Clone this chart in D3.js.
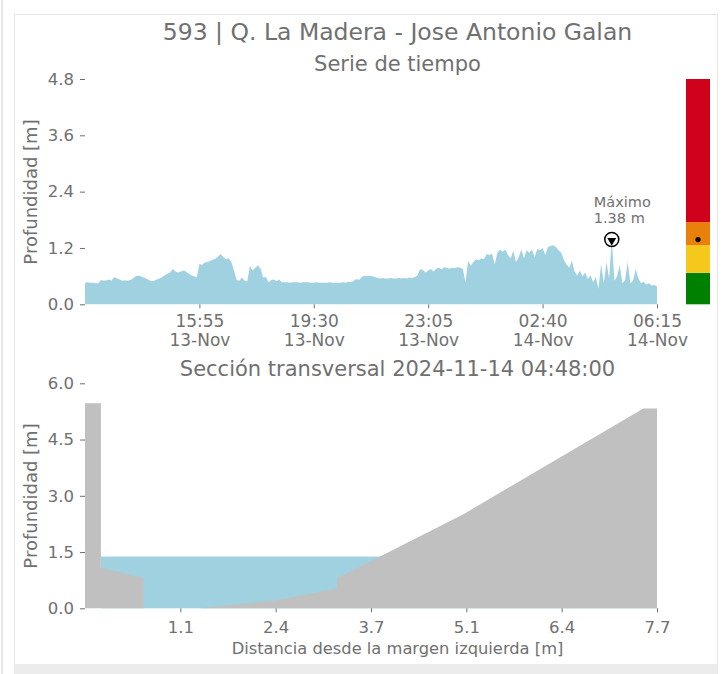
<!DOCTYPE html>
<html>
<head>
<meta charset="utf-8">
<script src="https://cdn.jsdelivr.net/npm/d3@7"></script>
<style>
body { margin: 0; background: #fff; }
text { font-family: "DejaVu Sans", sans-serif; fill: #707070; }
</style>
</head>
<body>
<svg id="chart" width="726" height="674"></svg>
<script>
/*************************************************************************/

const estacion = "593 | Q. La Madera - Jose Antonio Galan";
const inicio = "2024-11-13 12:20";
const fin = "2024-11-14 06:15";
const pasoMin = 5;

// profundidad cada 5 min [m]
const profundidad = [
    0.46, 0.47, 0.46, 0.46, 0.45, 0.45, 0.52, 0.50, 0.51, 0.53,
    0.50, 0.58, 0.55, 0.53, 0.50, 0.51, 0.50, 0.52, 0.55, 0.60,
    0.61, 0.60, 0.57, 0.55, 0.52, 0.49, 0.50, 0.53, 0.55, 0.58,
    0.62, 0.65, 0.68, 0.75, 0.70, 0.68, 0.70, 0.72, 0.70, 0.65,
    0.62, 0.60, 0.57, 0.86, 0.84, 0.89, 0.90, 0.92, 0.95, 0.97,
    1.02, 1.07, 1.00, 0.96, 0.98, 0.90, 0.72, 0.52, 0.50, 0.57,
    0.50, 0.49, 0.82, 0.72, 0.78, 0.83, 0.76, 0.57, 0.58, 0.47,
    0.52, 0.53, 0.49, 0.53, 0.47,
    0.47, 0.47, 0.46, 0.47, 0.47, 0.47, 0.46, 0.47, 0.47, 0.47,
    0.46, 0.46, 0.47, 0.46, 0.46, 0.46, 0.46, 0.47, 0.46, 0.46,
    0.46, 0.46, 0.47, 0.46, 0.48, 0.47,
    0.50, 0.54, 0.52, 0.58, 0.61, 0.60,
    0.61, 0.60, 0.58, 0.56, 0.55, 0.56, 0.55, 0.55, 0.56, 0.55,
    0.55, 0.56, 0.55, 0.56, 0.55, 0.57, 0.56, 0.58, 0.62,
    0.75, 0.73, 0.68, 0.72, 0.75, 0.70,
    0.76, 0.78, 0.74, 0.79, 0.78, 0.76, 0.78, 0.77, 0.79, 0.78, 0.76,
    0.47, 0.93, 0.82, 0.90, 0.96, 0.94, 0.98, 0.96, 1.07, 1.05,
    1.08, 0.85, 1.10, 1.16, 1.12, 1.17, 1.05, 0.98, 1.14, 0.90,
    1.00, 1.17, 0.98, 1.15, 1.10, 1.17, 1.00, 1.18, 1.15, 1.20,
    1.05, 1.22, 1.24, 1.26, 1.22, 1.15, 1.10, 0.95, 0.85, 0.78,
    0.93, 0.70, 0.61, 0.72, 0.60, 0.68, 0.54, 0.62, 0.47, 0.58,
    0.33, 0.86, 0.45, 0.90, 0.55, 1.38, 0.50, 0.60, 0.83, 0.45,
    0.52, 0.90, 0.45, 0.50, 0.75, 0.55, 0.45, 0.48, 0.42, 0.45,
    0.40, 0.41, 0.38
];

const ticksProf1 = [0, 1.2, 2.4, 3.6, 4.8];

// niveles de alerta [m]
const umbrales = [0, 0.67, 1.26, 1.75, 4.8];
const coloresNivel = ["#008000", "#f5c81b", "#e8800a", "#d0021b"];

// seccion transversal
const fechaSeccion = "2024-11-14 04:48:00";
const nivelSeccion = 1.38;
const distancia = [-0.22, 0, 0, 0.59, 0.59, 1.37, 2.39, 3.27, 3.27, 5.02, 7.51, 7.7, 7.7];
const cota = [5.47, 5.47, 1.08, 0.80, 0, 0, 0.20, 0.53, 0.80, 2.51, 5.33, 5.33, 0];
const ticksDist = [1.1, 2.42, 3.74, 5.06, 6.38, 7.7];
const ticksProf2 = [0, 1.5, 3.0, 4.5, 6.0];

/*************************************************************************/

const svg = d3.select('#chart');
const gris = '#707070';
const agua = '#9fd1e1';
const suelo = '#c0c0c0';

// marco
svg.append('line').attr('x1', 2).attr('x2', 2).attr('y1', 0).attr('y2', 674)
    .attr('stroke', '#e8e8e8').attr('stroke-width', 2);
svg.append('rect')
    .attr('x', 14.5).attr('y', 14.5).attr('width', 703).attr('height', 650)
    .attr('fill', '#fff').attr('stroke', '#e6e6e6');
svg.append('rect')
    .attr('x', 14).attr('y', 664).attr('width', 704).attr('height', 10)
    .attr('fill', '#ececec');

function titulo(txt, y, size){
    svg.append('text')
        .attr('x', 397.5).attr('y', y)
        .attr('text-anchor', 'middle')
        .style('font-size', size + 'px')
        .text(txt);
}

function etiquetaY(txt, cy){
    svg.append('text')
        .attr('transform', 'translate(37,' + cy + ') rotate(-90)')
        .attr('text-anchor', 'middle')
        .style('font-size', '18px')
        .text(txt);
}

function estiloEje(g){
    g.select('.domain').remove();
    g.selectAll('.tick line').attr('stroke', gris);
    g.selectAll('.tick text').style('font-size', '16.5px').attr('fill', gris);
}

titulo(estacion, 40, 23.5);
titulo('Serie de tiempo', 71, 21);

/*************************************************************************/
// serie de tiempo

const parse = d3.timeParse('%Y-%m-%d %H:%M');
const t0 = parse(inicio), t1 = parse(fin);
const serie = profundidad.map((v, i) => ({ t: d3.timeMinute.offset(t0, i * pasoMin), v: v }));

const x1 = d3.scaleTime().domain([t0, t1]).range([85, 657]);
const y1 = d3.scaleLinear().domain([0, 4.8]).range([304.3, 79]);

svg.append('path')
    .datum(serie)
    .attr('fill', agua)
    .attr('d', d3.area().x(d => x1(d.t)).y0(y1(0)).y1(d => y1(d.v)));

const ticksT = d3.range(1, 6).map(k => new Date(+t0 + k * (t1 - t0) / 5));
const fH = d3.timeFormat('%H:%M'), fD = d3.timeFormat('%d-%b');

svg.append('g')
    .attr('transform', 'translate(0,304.3)')
    .call(d3.axisBottom(x1).tickValues(ticksT).tickSize(4).tickFormat(''))
    .call(estiloEje)
    .selectAll('.tick').each(function(d){
        const t = d3.select(this);
        t.append('text').attr('y', 22.5).attr('text-anchor', 'middle')
            .style('font-size', '17px').text(fH(d));
        t.append('text').attr('y', 42).attr('text-anchor', 'middle')
            .style('font-size', '17px').text(fD(d));
    });

svg.append('g')
    .attr('transform', 'translate(85,0)')
    .call(d3.axisLeft(y1).tickValues(ticksProf1).tickSize(5).tickPadding(6).tickFormat(d3.format('.1f')))
    .call(estiloEje);

etiquetaY('Profundidad [m]', 192);

// maximo
const iMax = d3.maxIndex(serie, d => d.v);
const pMax = serie[iMax];
const mx = x1(pMax.t), my = y1(pMax.v);

svg.append('circle')
    .attr('cx', mx).attr('cy', my).attr('r', 7)
    .attr('fill', '#fff').attr('stroke', '#000').attr('stroke-width', 1.5);
svg.append('path')
    .attr('d', d3.symbol(d3.symbolTriangle, 34)())
    .attr('transform', 'translate(' + mx + ',' + (my + 1) + ') rotate(180)')
    .attr('fill', '#000');
svg.append('text')
    .attr('x', mx - 18).attr('y', my - 33)
    .style('font-size', '14.5px')
    .text('Máximo');
svg.append('text')
    .attr('x', mx - 18).attr('y', my - 17)
    .style('font-size', '14.5px')
    .text(d3.format('.2f')(pMax.v) + ' m');

// barra de niveles
const niveles = d3.range(coloresNivel.length).map(i => ({ a: umbrales[i], b: umbrales[i + 1], c: coloresNivel[i] }));
svg.append('g').selectAll('rect')
    .data(niveles)
    .enter().append('rect')
    .attr('x', 686).attr('width', 24)
    .attr('y', d => y1(d.b)).attr('height', d => y1(d.a) - y1(d.b))
    .attr('fill', d => d.c);
svg.append('circle')
    .attr('cx', 698).attr('cy', y1(pMax.v)).attr('r', 2.6)
    .attr('fill', '#000');

/*************************************************************************/
// seccion transversal

titulo('Sección transversal ' + fechaSeccion, 376, 21);

const x2 = d3.scaleLinear().domain([-0.22, 7.7]).range([85, 657]);
const y2 = d3.scaleLinear().domain([0, 6]).range([608.3, 383.3]);

svg.append('rect')
    .attr('x', x2(0)).attr('width', x2(7.7) - x2(0))
    .attr('y', y2(nivelSeccion)).attr('height', y2(0) - y2(nivelSeccion))
    .attr('fill', agua);

const perfil = distancia.map((d, i) => [d, cota[i]]);
svg.append('path')
    .datum(perfil)
    .attr('fill', suelo)
    .attr('d', d3.area().x(d => x2(d[0])).y0(y2(0)).y1(d => y2(d[1])));

svg.append('g')
    .attr('transform', 'translate(0,608.3)')
    .call(d3.axisBottom(x2).tickValues(ticksDist).tickSize(4).tickPadding(9).tickFormat(d3.format('.1f')))
    .call(estiloEje);

svg.append('g')
    .attr('transform', 'translate(85,0)')
    .call(d3.axisLeft(y2).tickValues(ticksProf2).tickSize(5).tickPadding(6).tickFormat(d3.format('.1f')))
    .call(estiloEje);

etiquetaY('Profundidad [m]', 496);

svg.append('text')
    .attr('x', 397.5).attr('y', 654)
    .attr('text-anchor', 'middle')
    .style('font-size', '16.3px')
    .text('Distancia desde la margen izquierda [m]');

/*************************************************************************/
</script>
</body>
</html>
